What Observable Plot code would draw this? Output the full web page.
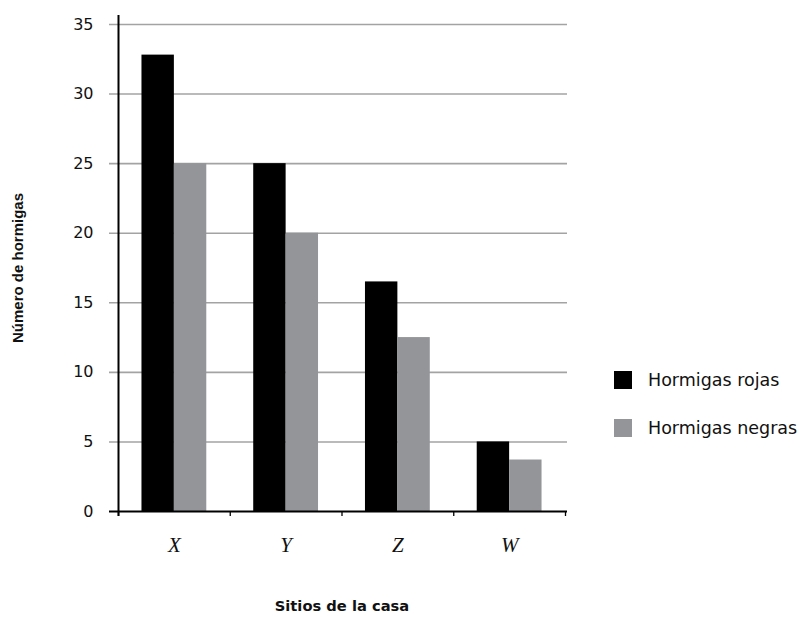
<!DOCTYPE html>
<html>
<head>
<meta charset="utf-8">
<script src="https://cdn.jsdelivr.net/npm/d3@7"></script>
<script src="https://cdn.jsdelivr.net/npm/@observablehq/plot@0.6"></script>
<style>
  html, body { margin: 0; padding: 0; background: #fff; }
  #wrap { position: relative; width: 805px; height: 617px; overflow: hidden; }
  #legend { position: absolute; left: 614px; top: 370px; font-family: "DejaVu Sans", Verdana, sans-serif; font-size: 17.5px; color: #111; }
  .item { display: flex; align-items: center; height: 20px; margin-bottom: 28px; }
  .sw { width: 18px; height: 18px; margin-right: 16px; }
</style>
</head>
<body>
<div id="wrap"></div>
<script>
// ---- data ----
const sites = ["X", "Y", "Z", "W"];
const seriesNames = ["Hormigas rojas", "Hormigas negras"];
const rojas = [32.8, 25, 16.5, 5];
const negras = [25, 20, 12.5, 3.7];
const yTicks = [0, 5, 10, 15, 20, 25, 30, 35];
const colors = ["#000000", "#939598"];

const rowsR = sites.map((s, i) => ({site: s, value: rojas[i]}));
const rowsN = sites.map((s, i) => ({site: s, value: negras[i]}));

// ---- layout ----
const W = 805, H = 617;
const mL = 118, mR = 240, mT = 24, mB = 106;
const pInner = 0.42, pOuter = 0.21;
const innerW = W - mL - mR;
const step = innerW / (sites.length - pInner + 2 * pOuter);
const bw = step * (1 - pInner);
const half = bw / 2;

const chart = Plot.plot({
  width: W, height: H,
  marginLeft: mL, marginRight: mR, marginTop: mT, marginBottom: mB,
  style: {fontFamily: "DejaVu Sans, sans-serif", background: "transparent"},
  x: {domain: sites, type: "band", paddingInner: pInner, paddingOuter: pOuter, round: false, axis: null},
  y: {domain: [0, 35], axis: null},
  marks: [
    Plot.ruleY(yTicks.filter(d => d > 0), {y: d => d, stroke: "#a3a3a3", strokeWidth: 1.6, insetLeft: -9, insetRight: -2}),
    Plot.barY(rowsR, {x: "site", y: "value", fill: colors[0], insetRight: half}),
    Plot.barY(rowsN, {x: "site", y: "value", fill: colors[1], insetLeft: half}),
    Plot.ruleY([0], {y: d => d, stroke: "#000", strokeWidth: 2, insetLeft: -9, insetRight: -2}),
    Plot.ruleX([sites[0]], {x: d => d, dx: -step / 2, stroke: "#000", strokeWidth: 2, insetTop: -9, insetBottom: -5}),
    Plot.ruleX(sites, {x: d => d, y1: 0, y2: 0, dx: -step / 2, stroke: "#000", strokeWidth: 1.3, insetBottom: -5}),
    Plot.ruleX([sites[sites.length - 1]], {x: d => d, y1: 0, y2: 0, dx: step / 2, stroke: "#000", strokeWidth: 1.3, insetBottom: -5}),
    Plot.text(yTicks, {y: d => d, text: d => String(d), frameAnchor: "left", dx: -25, textAnchor: "end", fontSize: 16, fill: "#111", fontFamily: "DejaVu Sans, sans-serif"}),
    Plot.text(sites, {x: d => d, text: d => d, frameAnchor: "bottom", dy: 40, fontSize: 21, fontStyle: "italic", fill: "#111", fontFamily: "Liberation Serif, serif"}),
    Plot.text(["Sitios de la casa"], {text: d => d, frameAnchor: "bottom", dy: 99, fontSize: 14.7, fontWeight: "bold", fill: "#111", fontFamily: "DejaVu Sans, sans-serif"}),
    Plot.text(["Número de hormigas"], {text: d => d, frameAnchor: "left", textAnchor: "middle", dx: -100, rotate: -90, fontSize: 15, fontWeight: "bold", fill: "#111", fontFamily: "Liberation Sans, Arial, sans-serif"})
  ]
});

const wrap = document.getElementById("wrap");
wrap.appendChild(chart);

const legend = document.createElement("div");
legend.id = "legend";
seriesNames.forEach((name, i) => {
  const item = document.createElement("div");
  item.className = "item";
  const sw = document.createElement("div");
  sw.className = "sw";
  sw.style.background = colors[i];
  const label = document.createElement("span");
  label.textContent = name;
  item.appendChild(sw);
  item.appendChild(label);
  legend.appendChild(item);
});
wrap.appendChild(legend);
</script>
</body>
</html>
